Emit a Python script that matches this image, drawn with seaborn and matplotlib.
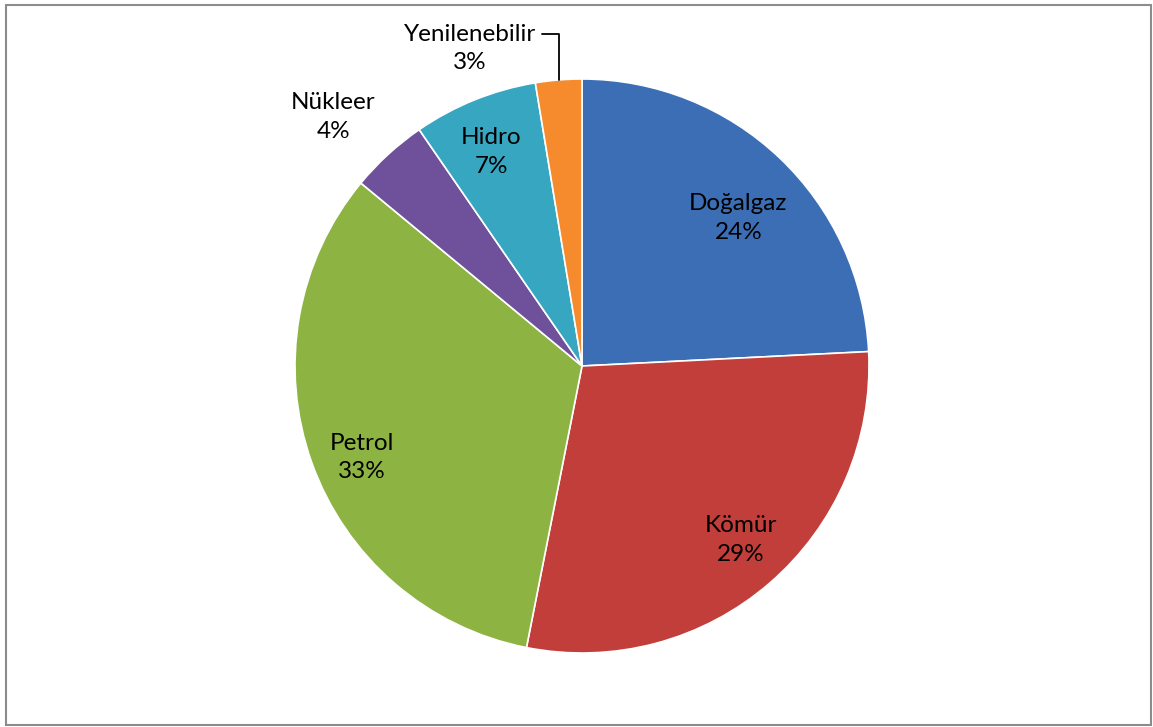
import numpy as np
import matplotlib
matplotlib.use("Agg")
import matplotlib.pyplot as plt
import seaborn as sns
from matplotlib.patches import Rectangle

sns.set_theme(style="white")
plt.rcParams['font.family'] = ['Lato', 'DejaVu Sans']

categories = ["Doğalgaz", "Kömür", "Petrol", "Nükleer", "Hidro", "Yenilenebilir"]
values = [24.2, 28.9, 32.9, 4.4, 7.0, 2.6]
colors = ["#3B6EB5", "#C23E3A", "#8DB443", "#6F519B", "#36A6C1", "#F58B2C"]
label_r = [0.75, 0.82, 0.83, 1.225, 0.81, None]
label_dtheta = [-3.0, 1.5, 3.0, 2.5, 1.0, 0.0]

W, H = 1153, 727
fig = plt.figure(figsize=(W / 100, H / 100), dpi=100)
cx, cy, R = 582, 366, 287
ax = fig.add_axes([(cx - R) / W, (H - cy - R) / H, 2 * R / W, 2 * R / H])

wedges, _ = ax.pie(values, colors=colors, startangle=90, counterclock=False,
                   radius=1.0, wedgeprops=dict(edgecolor="white", linewidth=1.2))
ax.set_xlim(-1, 1)
ax.set_ylim(-1, 1)
ax.set_aspect("equal")
ax.axis("off")

total = sum(values)
for w, cat, v, r, dt in zip(wedges, categories, values, label_r, label_dtheta):
    mid = np.deg2rad((w.theta1 + w.theta2) / 2 + dt)
    txt = f"{cat}\n{round(100 * v / total)}%"
    if r is not None:
        ax.text(r * np.cos(mid), r * np.sin(mid), txt, ha="center", va="center",
                fontsize=17.5, color="black", linespacing=1.45)
    else:
        ex, ey = np.cos(mid), np.sin(mid)
        ax.annotate(txt, xy=(ex, ey), xytext=(ex - 0.31, ey + 0.11),
                    ha="center", va="center", fontsize=17.5, color="black",
                    linespacing=1.45,
                    arrowprops=dict(arrowstyle="-", color="black", lw=1.3,
                                    shrinkA=2, shrinkB=0,
                                    connectionstyle="angle,angleA=0,angleB=90,rad=0",
                                    relpos=(1.0, 0.78)))

fig.patches.append(Rectangle((6 / W, 2 / H), 1145 / W, 720 / H, transform=fig.transFigure,
                             fill=False, edgecolor="#8C8C8C", linewidth=1.5))
fig.savefig("out.png", dpi=100)
